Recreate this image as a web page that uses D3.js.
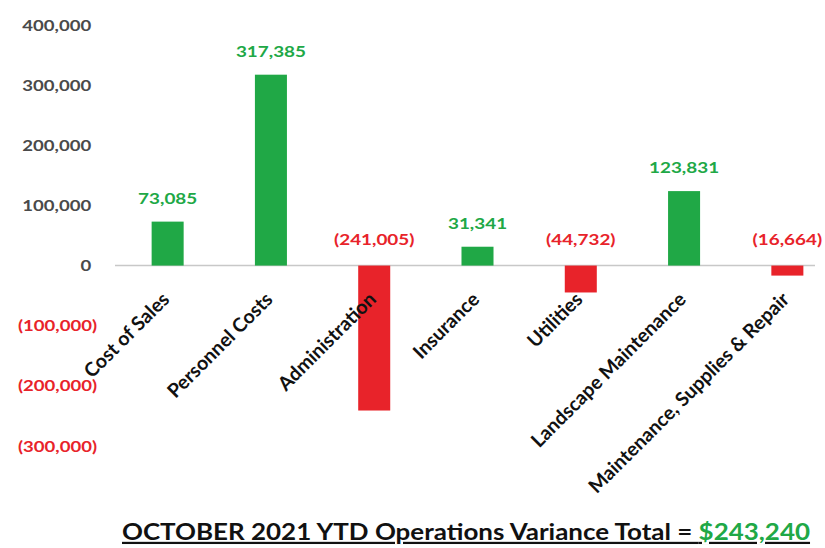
<!DOCTYPE html>
<html>
<head>
<meta charset="utf-8">
<script src="https://cdn.jsdelivr.net/npm/d3@7"></script>
<style>
  body { margin: 0; background: #fff; }
  svg { display: block; }
</style>
</head>
<body>
<div id="chart"></div>
<script>
// data
var categories = ["Cost of Sales", "Personnel Costs", "Administration", "Insurance",
                  "Utilities", "Landscape Maintenance", "Maintenance, Supplies & Repair"];
var variances = [73085, 317385, -241005, 31341, -44732, 123831, -16664];
var yTicks = [400000, 300000, 200000, 100000, 0, -100000, -200000, -300000];
var titleText = "OCTOBER 2021 YTD Operations Variance Total = ";
var totalText = "$243,240";

var W = 825, H = 548;
var green = "#20a846", red = "#e8232a";
var font = "Lato, 'Open Sans', sans-serif";
var stretch = 1.18; // the source picture is a bit wider than tall

var svg = d3.select("#chart").append("svg")
    .attr("width", W).attr("height", H);

var x = d3.scaleBand()
    .domain(categories)
    .range([116, 839])
    .paddingInner(0.69)
    .paddingOuter(0.345);

var y = d3.scaleLinear()
    .domain([-300000, 400000])
    .range([446, 25]);

var fmt = d3.format(",");
function label(v) {
    return v < 0 ? "(" + fmt(-v) + ")" : fmt(v);
}

// y axis labels
var yAxis = d3.axisLeft(y).tickValues(yTicks).tickSize(0).tickPadding(0).tickFormat(label);
var ya = svg.append("g").attr("transform", "translate(97,0)").call(yAxis);
ya.select(".domain").remove();
ya.selectAll("text")
    .attr("dx", function (d) { return d < 0 ? 0 : -5; })
    .attr("transform", "scale(1.16,1)")
    .attr("font-family", font)
    .attr("font-size", 16)
    .attr("font-weight", "bold")
    .attr("fill", function (d) { return d < 0 ? red : "#4a4a4a"; });

// zero line
svg.append("line")
    .attr("x1", 115).attr("x2", 815)
    .attr("y1", y(0)).attr("y2", y(0))
    .attr("stroke", "#c8c8c8").attr("stroke-width", 1.5);

// bars
svg.selectAll("rect.bar")
    .data(variances)
    .enter().append("rect")
    .attr("class", "bar")
    .attr("x", function (d, i) { return x(categories[i]); })
    .attr("width", x.bandwidth())
    .attr("y", function (d) { return y(Math.max(0, d)); })
    .attr("height", function (d) { return Math.abs(y(d) - y(0)); })
    .attr("fill", function (d) { return d < 0 ? red : green; });

// value labels
svg.selectAll("text.val")
    .data(variances)
    .enter().append("text")
    .attr("class", "val")
    .attr("transform", function (d, i) {
        var cx = x(categories[i]) + x.bandwidth() / 2;
        var cy = d < 0 ? y(0) - 21 : y(d) - 18;
        return "translate(" + cx + "," + cy + ") scale(" + stretch + ",1)";
    })
    .attr("text-anchor", "middle")
    .attr("font-family", font)
    .attr("font-size", 16)
    .attr("font-weight", "bold")
    .attr("fill", function (d) { return d < 0 ? red : green; })
    .text(label);

// category labels, rotated
svg.selectAll("text.cat")
    .data(categories)
    .enter().append("text")
    .attr("class", "cat")
    .attr("transform", function (d) {
        return "translate(" + (x(d) + x.bandwidth() / 2 + 3) + "," + (y(0) + 35) + ") rotate(-45)";
    })
    .attr("text-anchor", "end")
    .attr("font-family", font)
    .attr("font-size", 19.5)
    .attr("font-weight", "bold")
    .attr("fill", "#111")
    .text(function (d) { return d; });

// bottom title
var t = svg.append("text")
    .attr("transform", "translate(122,540) scale(" + stretch + ",1)")
    .attr("font-family", font)
    .attr("font-size", 22)
    .attr("font-weight", "bold")
    .attr("fill", "#111")
    .attr("text-decoration", "underline");
t.append("tspan").attr("xml:space", "preserve").text(titleText);
t.append("tspan").attr("fill", green).text(totalText);
</script>
</body>
</html>
